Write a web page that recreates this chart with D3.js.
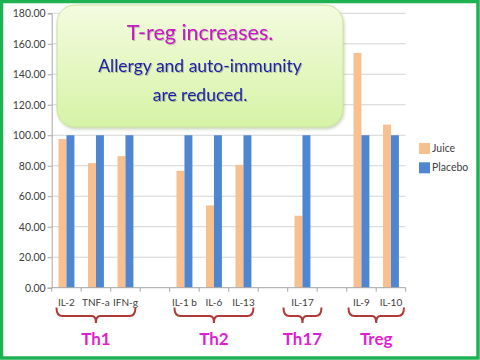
<!DOCTYPE html>
<html><head><meta charset="utf-8">
<script src="https://cdn.jsdelivr.net/npm/d3@7"></script>
<style>html,body{margin:0;padding:0;background:#fff;}svg{display:block;}</style>
</head><body>
<script>
const categories = ["IL-2","TNF-a","IFN-g","","IL-1 b","IL-6","IL-13","","IL-17","","IL-9","IL-10"];
const series = ["Juice","Placebo"];
const juice   = [97.5, 81.7, 86.3, null, 76.7, 54.0, 80.6, null, 47.2, null, 154.0, 107.0];
const placebo = [100, 100, 100, null, 100, 100, 100, null, 100, null, 100, 100];
const yTicks = [0,20,40,60,80,100,120,140,160,180];
const groups = [
  {name:"Th1", start:0, end:2},
  {name:"Th2", start:4, end:6},
  {name:"Th17", start:8, end:8},
  {name:"Treg", start:10, end:11}
];
const calloutLines = ["T-reg increases.","Allergy and auto-immunity","are reduced."];
const colors = {Juice:"#f9c08f", Placebo:"#4f86d2"};
const font = "Lato, 'Open Sans', sans-serif";

const W=480,H=360;
const svg=d3.select("body").append("svg").attr("width",W).attr("height",H);
const defs=svg.append("defs");
const g1=defs.append("linearGradient").attr("id","cg").attr("x1",0).attr("y1",0).attr("x2",0).attr("y2",1);
g1.append("stop").attr("offset","0%").attr("stop-color","#f4fbe0");
g1.append("stop").attr("offset","100%").attr("stop-color","#d6f3a6");
const f=defs.append("filter").attr("id","sh").attr("x","-10%").attr("y","-10%").attr("width","120%").attr("height","130%");
f.append("feDropShadow").attr("dx",1).attr("dy",2).attr("stdDeviation",1.5).attr("flood-color","#6a8a40").attr("flood-opacity",0.35);
const tf=defs.append("filter").attr("id","ts").attr("x","-5%").attr("y","-20%").attr("width","110%").attr("height","150%");
tf.append("feDropShadow").attr("dx",1).attr("dy",1).attr("stdDeviation",0.6).attr("flood-color","#505050").attr("flood-opacity",0.35);

svg.append("rect").attr("x",1.5).attr("y",1.5).attr("width",W-3.5).attr("height",H-3.5)
  .attr("fill","#fff").attr("stroke","#1fb253").attr("stroke-width",3.5);

const y=d3.scaleLinear().domain([0,180]).range([287.7,13.3]);
const x=d3.scaleBand().domain(d3.range(categories.length)).range([51.7,405.7]).paddingInner(0.46).paddingOuter(0.23);
const x1=d3.scaleBand().domain(series).range([0,x.bandwidth()]);

// gridlines
svg.append("g").selectAll("line").data(yTicks.filter(d=>d>0)).join("line")
  .attr("x1",51.7).attr("x2",405.7).attr("y1",d=>y(d)).attr("y2",d=>y(d))
  .attr("stroke","#d4d4d4").attr("stroke-width",1);

// y axis
const ya=svg.append("g").attr("transform","translate(51.7,0)")
  .call(d3.axisLeft(y).tickValues(yTicks).tickFormat(d3.format(".2f")).tickSize(4).tickPadding(2));
ya.select(".domain").attr("stroke","#a6a6a6");
ya.selectAll(".tick line").attr("stroke","#a6a6a6");
ya.selectAll("text").attr("font-family",font).attr("font-size","10.5px").attr("fill","#404040");

// bars
const data=categories.map((c,i)=>({i, vals:[{s:"Juice",v:juice[i]},{s:"Placebo",v:placebo[i]}]}));
const bg=svg.append("g").selectAll("g").data(data).join("g").attr("transform",d=>`translate(${x(d.i)},0)`);
bg.selectAll("rect").data(d=>d.vals.filter(v=>v.v!=null)).join("rect")
  .attr("x",d=>x1(d.s)).attr("width",x1.bandwidth())
  .attr("y",d=>y(d.v)).attr("height",d=>y(0)-y(d.v)).attr("fill",d=>colors[d.s]);

// x axis
const step=x.step();
svg.append("line").attr("x1",51.7).attr("x2",405.7).attr("y1",y(0)).attr("y2",y(0)).attr("stroke","#a6a6a6");
svg.append("g").selectAll("line").data(d3.range(categories.length+1)).join("line")
  .attr("x1",d=>51.7+d*step).attr("x2",d=>51.7+d*step).attr("y1",y(0)).attr("y2",y(0)+4).attr("stroke","#a6a6a6");
svg.append("g").selectAll("text").data(categories.map((c,i)=>({c,i})).filter(d=>d.c)).join("text")
  .attr("x",d=>x(d.i)+x.bandwidth()/2).attr("y",305.5).attr("text-anchor","middle")
  .attr("font-family",font).attr("font-size","10px").attr("fill","#404040").text(d=>d.c);

// brackets + group labels
const gg=svg.append("g");
groups.forEach(g=>{
  const c0=x(g.start)+x.bandwidth()/2, c1=x(g.end)+x.bandwidth()/2;
  let mid=(c0+c1)/2, half=Math.max((c1-c0)/2+10,19);
  if(g.name==="Treg") half+=3;
  const a=mid-half,b=mid+half;
  gg.append("path").attr("d",`M${a},307.5 Q${a},316 ${a+6},316 L${mid-4},316 Q${mid},316 ${mid},323 Q${mid},316 ${mid+4},316 L${b-6},316 Q${b},316 ${b},307.5`)
    .attr("fill","none").attr("stroke","#b03a3a").attr("stroke-width",2);
  gg.append("text").attr("x",mid).attr("y",345).attr("text-anchor","middle")
    .attr("font-family",font).attr("font-weight","bold").attr("font-size","17px").attr("fill","#de1fd0").text(g.name);
});

// legend
const lg=svg.append("g");
series.forEach((s,k)=>{
  lg.append("rect").attr("x",419).attr("y",143+k*19.3).attr("width",11).attr("height",11).attr("fill",colors[s]);
  lg.append("text").attr("x",432).attr("y",148.5+k*19.3).attr("dy","0.35em")
    .attr("font-family",font).attr("font-size","10.5px").attr("fill","#404040").text(s);
});

// callout
svg.append("rect").attr("x",57).attr("y",5).attr("width",286).attr("height",122).attr("rx",18)
  .attr("fill","url(#cg)").attr("stroke","#c9e29c").attr("stroke-width",1).attr("filter","url(#sh)");
const sizes=[21.5,17.5,17.5], ys=[39.5,72,101], cols=["#c814c4","#1f22a8","#1f22a8"];
calloutLines.forEach((t,k)=>{
  svg.append("text").attr("x",200).attr("y",ys[k]).attr("text-anchor","middle")
    .attr("font-family",font).attr("font-size",sizes[k]+"px").attr("fill",cols[k])
    .attr("filter","url(#ts)").text(t);
});
</script>
</body></html>
